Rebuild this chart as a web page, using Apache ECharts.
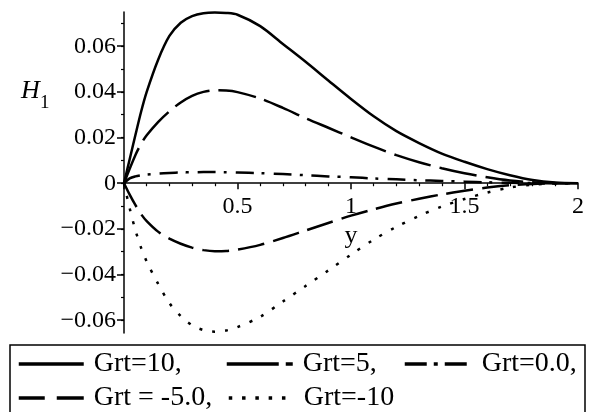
<!DOCTYPE html>
<html>
<head>
<meta charset="utf-8">
<script src="https://cdn.jsdelivr.net/npm/echarts@6/dist/echarts.min.js"></script>
<style>
  html, body { margin: 0; padding: 0; background: #fff; }
  #chart { width: 590px; height: 412px; }
</style>
</head>
<body>
<div id="chart"></div>
<script>
// Position across the channel (y) and the induced field H1 for each Grt value
const yPos = [0, 0.025, 0.05, 0.075, 0.1, 0.15, 0.2, 0.25, 0.3, 0.35, 0.4, 0.45, 0.5,
  0.6, 0.7, 0.8, 0.9, 1.0, 1.1, 1.2, 1.3, 1.4, 1.5, 1.6, 1.7, 1.8, 1.9, 2.0];

const grt10 = [0, 0.0105, 0.0210, 0.0312, 0.0400, 0.0540, 0.0645, 0.0703, 0.0732, 0.0745, 0.0748, 0.0746, 0.0738,
  0.0688, 0.0610, 0.0532, 0.0450, 0.0369, 0.0293, 0.0228, 0.0176, 0.0130, 0.0094, 0.0062, 0.0035, 0.0014, 0.0003, 0];
const grt5 = [0, 0.0063, 0.0123, 0.0172, 0.0210, 0.0268, 0.0315, 0.0354, 0.0383, 0.0400, 0.0407, 0.0406, 0.0399,
  0.0371, 0.0330, 0.0285, 0.0243, 0.0201, 0.0160, 0.0123, 0.0092, 0.0066, 0.0044, 0.0026, 0.0012, 0.0004, 0.0001, 0];
const grt0 = [0, 0.0021, 0.0030, 0.0035, 0.0038, 0.0042, 0.0045, 0.0047, 0.0048, 0.0049, 0.0049, 0.0048, 0.0047,
  0.0044, 0.0040, 0.0035, 0.0030, 0.0026, 0.0021, 0.0017, 0.0013, 0.0010, 0.0007, 0.0004, 0.0002, 0.0001, 0, 0];
const grtM5 = [0, -0.0050, -0.0095, -0.0135, -0.0166, -0.0212, -0.0243, -0.0265, -0.0282, -0.0293, -0.0298, -0.0297, -0.0291,
  -0.0270, -0.0240, -0.0207, -0.0174, -0.0142, -0.0114, -0.0089, -0.0068, -0.0049, -0.0033, -0.0019, -0.0009, -0.0003, -0.0001, 0];
const grtM10 = [0, -0.0110, -0.0205, -0.0282, -0.0343, -0.0440, -0.0525, -0.0582, -0.0622, -0.0643, -0.0650, -0.0645, -0.0630,
  -0.0585, -0.0518, -0.0450, -0.0382, -0.0313, -0.0247, -0.0191, -0.0143, -0.0102, -0.0069, -0.0041, -0.0019, -0.0006, -0.0001, 0];

const seriesNames = ['Grt=10,', 'Grt=5,', 'Grt=0.0,', 'Grt = -5.0,', 'Grt=-10'];

// Axis ticks and labels
const xLabelValues = [0.5, 1, 1.5, 2];
const yLabelValues = [-0.06, -0.04, -0.02, 0, 0.02, 0.04, 0.06];
const yMinorValues = [-0.06, -0.05, -0.04, -0.03, -0.02, -0.01, 0, 0.01, 0.02, 0.03, 0.04, 0.05, 0.06, 0.07];
const yMin = -0.0656;
const yMax = 0.075;

const serif = '"Liberation Serif", "Times New Roman", serif';

const gridTop = 12;
const gridBottom = 79;
const chartHeight = 412;

function pairs(vals) {
  return yPos.map((x, i) => [x, vals[i]]);
}

function fmtY(v) {
  const r = Math.round(v * 100) / 100;
  if (r === 0) return '0';
  return r < 0 ? '\u2212' + Math.abs(r).toFixed(2) : r.toFixed(2);
}

function lineSeries(name, data, dash) {
  return {
    name: name,
    type: 'line',
    data: pairs(data),
    smooth: 0.3,
    symbol: 'none',
    clip: false,
    lineStyle: { color: '#000', width: 2.5, type: dash, cap: 'butt' }
  };
}

// One legend block per entry so the two rows line up like a table
function legendItem(name, left, top, width, dash, gap) {
  return {
    data: [name],
    left: left,
    top: top,
    orient: 'horizontal',
    padding: 0,
    itemGap: 0,
    itemWidth: width,
    itemHeight: 4,
    selectedMode: false,
    lineStyle: { color: '#000', width: 3.5, type: dash, cap: 'butt' },
    itemStyle: { color: 'rgba(0,0,0,0)', borderWidth: 0, opacity: 0 },
    textStyle: {
      fontFamily: serif,
      fontSize: 28,
      color: '#000',
      lineHeight: 30,
      padding: [0, 0, 0, gap]
    }
  };
}

const chart = echarts.init(document.getElementById('chart'), null, { renderer: 'canvas' });

// The horizontal axis sits on H1 = 0, lifted up from the bottom of the plot area
const plotHeight = chartHeight - gridTop - gridBottom;
const zeroLift = plotHeight * (0 - yMin) / (yMax - yMin);

chart.setOption({
  animation: false,
  backgroundColor: '#fff',
  grid: { left: 124, right: 12, top: gridTop, bottom: gridBottom, containLabel: false },
  xAxis: {
    type: 'value',
    min: 0,
    max: 2,
    interval: 0.5,
    position: 'bottom',
    offset: -zeroLift,
    name: 'y',
    nameLocation: 'middle',
    nameGap: 36,
    nameTextStyle: { fontFamily: serif, fontSize: 26, color: '#000' },
    axisLine: { onZero: false, lineStyle: { color: '#000', width: 1.5 } },
    axisTick: { show: true, length: 6, lineStyle: { color: '#000', width: 1.5 } },
    minorTick: { show: true, splitNumber: 5, length: 3, lineStyle: { color: '#000', width: 1.2 } },
    axisLabel: {
      customValues: xLabelValues,
      formatter: v => String(v),
      margin: 11,
      fontFamily: serif,
      fontSize: 24,
      color: '#000'
    },
    splitLine: { show: false }
  },
  yAxis: [
    {
      type: 'value',
      min: yMin,
      max: yMax,
      position: 'left',
      axisLine: { show: true, onZero: false, lineStyle: { color: '#000', width: 1.5 } },
      axisTick: { show: true, customValues: yLabelValues, length: 7, lineStyle: { color: '#000', width: 1.5 } },
      axisLabel: {
        customValues: yLabelValues,
        formatter: fmtY,
        margin: 8,
        fontFamily: serif,
        fontSize: 24,
        color: '#000'
      },
      splitLine: { show: false }
    },
    {
      type: 'value',
      min: yMin,
      max: yMax,
      position: 'left',
      axisLine: { show: false, onZero: false },
      axisTick: { show: true, customValues: yMinorValues, length: 3, lineStyle: { color: '#000', width: 1.2 } },
      axisLabel: { show: false },
      splitLine: { show: false }
    }
  ],
  legend: [
    legendItem(seriesNames[0], 17, 349, 65, 'solid', 5),
    legendItem(seriesNames[1], 225, 349, 66, [52, 7, 7, 50], 5),
    legendItem(seriesNames[2], 403, 349, 62, [22, 7, 4, 7, 22, 20], 10),
    legendItem(seriesNames[3], 17, 383, 65, [26, 12, 27, 10], 5),
    legendItem(seriesNames[4], 227, 383, 57, [3.5, 9.8], 13)
  ],
  graphic: [
    {
      type: 'rect',
      shape: { x: 10, y: 345, width: 575, height: 80 },
      style: { fill: 'none', stroke: '#000', lineWidth: 1.5 },
      silent: true
    },
    {
      type: 'text',
      x: 21,
      y: 91.5,
      style: {
        text: 'H',
        font: 'italic 26px ' + serif,
        fill: '#000',
        verticalAlign: 'middle',
        align: 'left'
      }
    },
    {
      type: 'text',
      x: 40,
      y: 103.5,
      style: {
        text: '1',
        font: '19px ' + serif,
        fill: '#000',
        verticalAlign: 'middle',
        align: 'left'
      }
    }
  ],
  series: [
    lineSeries(seriesNames[0], grt10, 'solid'),
    lineSeries(seriesNames[1], grt5, [38, 9]),
    lineSeries(seriesNames[2], grt0, [18, 8, 3, 9]),
    lineSeries(seriesNames[3], grtM5, [27, 9]),
    lineSeries(seriesNames[4], grtM10, [3, 10])
  ]
});
</script>
</body>
</html>
